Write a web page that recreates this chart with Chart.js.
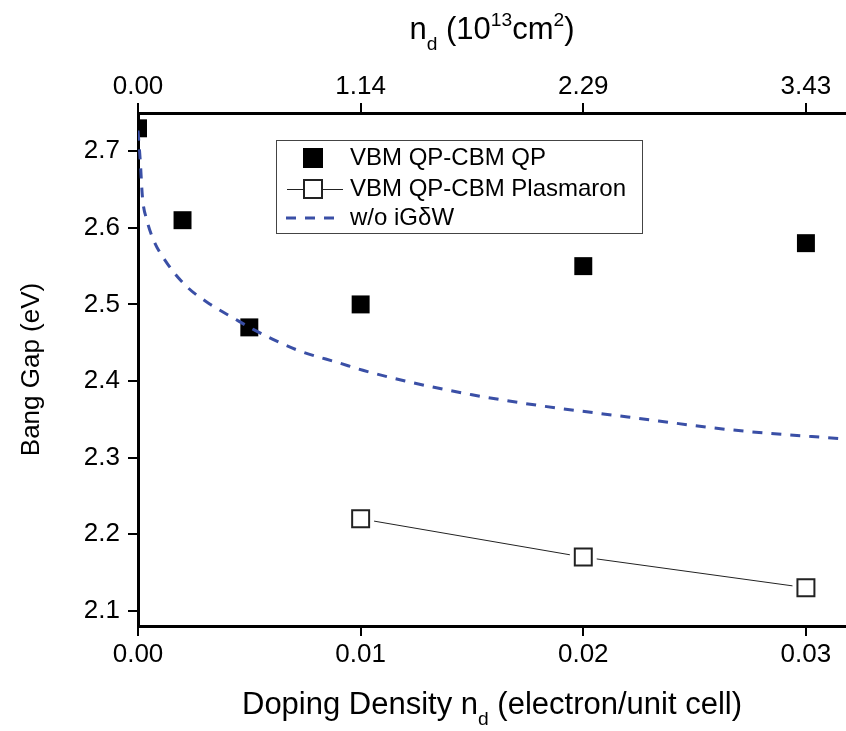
<!DOCTYPE html>
<html>
<head>
<meta charset="utf-8">
<script src="https://cdn.jsdelivr.net/npm/chart.js@4"></script>
<style>
  body { margin: 0; background: #fff; }
</style>
</head>
<body>
<canvas id="myChart" width="846" height="731"></canvas>
<script>
// bottom axis: doping density (electron/unit cell)
const xTicks = [0, 0.01, 0.02, 0.03];
// top axis labels: n_d in 10^13 cm^-2
const xTopLabels = ['0.00', '1.14', '2.29', '3.43'];
const yTicks = [2.1, 2.2, 2.3, 2.4, 2.5, 2.6, 2.7];

// VBM QP - CBM QP (filled squares)
const qpX = [0, 0.002, 0.005, 0.01, 0.02, 0.03];
const qpY = [2.73, 2.61, 2.47, 2.50, 2.55, 2.58];

// VBM QP - CBM Plasmaron (open squares)
const plasX = [0.01, 0.02, 0.03];
const plasY = [2.22, 2.17, 2.13];

// w/o iGdW (dashed curve)
const curveX = [0, 0.0001, 0.0002, 0.0004, 0.0007, 0.0013, 0.0022, 0.0032, 0.0043, 0.0052,
                0.0071, 0.0091, 0.0101, 0.012, 0.015, 0.018, 0.022, 0.0267, 0.0318];
const curveY = [2.727, 2.688, 2.640, 2.610, 2.584, 2.554, 2.523, 2.501, 2.482, 2.467,
                2.441, 2.423, 2.414, 2.400, 2.382, 2.368, 2.353, 2.336, 2.324];

const FONT = "'Liberation Sans', Arial, sans-serif";
const BLUE = '#3a4fa6';

const toPts = (xs, ys) => xs.map((x, i) => ({ x: x, y: ys[i] }));

// draws a run of text pieces with sub/superscripts
function drawRich(ctx, parts, cx, baseY, size) {
  let total = 0;
  parts.forEach(p => {
    ctx.font = (p.s ? size * 0.62 : size) + 'px ' + FONT;
    p.w = ctx.measureText(p.t).width;
    total += p.w;
  });
  let x = cx - total / 2;
  parts.forEach(p => {
    ctx.font = (p.s ? size * 0.62 : size) + 'px ' + FONT;
    let dy = 0;
    if (p.s === 'sub') dy = size * 0.36;
    if (p.s === 'sup') dy = -size * 0.42;
    ctx.fillText(p.t, x, baseY + dy);
    x += p.w;
  });
}

const decor = {
  id: 'decor',
  afterDraw(chart) {
    const ctx = chart.ctx;
    const a = chart.chartArea;
    ctx.save();
    ctx.fillStyle = '#000';
    ctx.textAlign = 'left';
    ctx.textBaseline = 'alphabetic';
    const mid = (a.left + a.right) / 2;

    // top title
    drawRich(ctx, [
      { t: 'n' }, { t: 'd', s: 'sub' }, { t: ' (10' }, { t: '13', s: 'sup' },
      { t: 'cm' }, { t: '2', s: 'sup' }, { t: ')' }
    ], mid, 39, 31);

    // bottom title
    drawRich(ctx, [
      { t: 'Doping Density n' }, { t: 'd', s: 'sub' }, { t: ' (electron/unit cell)' }
    ], mid, 714, 31);

    // y title
    ctx.save();
    ctx.translate(39, (a.top + a.bottom) / 2);
    ctx.rotate(-Math.PI / 2);
    ctx.textAlign = 'center';
    ctx.font = '26px ' + FONT;
    ctx.fillText('Bang Gap (eV)', 0, 0);
    ctx.restore();

    // legend box
    const bx = 276, by = 140, bw = 366, bh = 93;
    ctx.fillStyle = '#fff';
    ctx.fillRect(bx, by, bw, bh);
    ctx.strokeStyle = '#444';
    ctx.lineWidth = 1;
    ctx.strokeRect(bx + 0.5, by + 0.5, bw, bh);

    const sx = 313, tx = 350;
    const rows = [158, 189, 218];
    ctx.font = '24px ' + FONT;
    ctx.textBaseline = 'middle';
    ctx.textAlign = 'left';

    // row 1
    ctx.fillStyle = '#000';
    ctx.fillRect(sx - 10, rows[0] - 10, 20, 20);
    ctx.fillText(chart.data.datasets[1].label, tx, rows[0]);

    // row 2
    ctx.strokeStyle = '#222';
    ctx.lineWidth = 1;
    ctx.beginPath();
    ctx.moveTo(287, rows[1] + 0.5);
    ctx.lineTo(343, rows[1] + 0.5);
    ctx.stroke();
    ctx.fillStyle = '#fff';
    ctx.fillRect(sx - 9, rows[1] - 9, 18, 18);
    ctx.lineWidth = 2;
    ctx.strokeRect(sx - 9, rows[1] - 9, 18, 18);
    ctx.fillStyle = '#000';
    ctx.fillText(chart.data.datasets[4].label, tx, rows[1]);

    // row 3
    ctx.strokeStyle = BLUE;
    ctx.lineWidth = 3;
    ctx.setLineDash([10, 9]);
    ctx.beginPath();
    ctx.moveTo(286, rows[2]);
    ctx.lineTo(341, rows[2]);
    ctx.stroke();
    ctx.setLineDash([]);
    ctx.fillText(chart.data.datasets[0].label, tx, rows[2]);

    ctx.restore();
  }
};

const tickGrid = {
  drawOnChartArea: false,
  drawTicks: true,
  tickLength: 10,
  color: '#000',
  lineWidth: 2
};

function fixPad(s) {
  s.paddingLeft = 0;
  s.paddingRight = 0;
  s.paddingTop = 0;
  s.paddingBottom = 0;
}

const config = {
  type: 'scatter',
  data: {
    datasets: [
      {
        label: 'w/o iG\u03B4W',
        data: toPts(curveX, curveY),
        showLine: true,
        borderColor: BLUE,
        borderWidth: 3,
        borderDash: [10, 9],
        pointRadius: 0,
        cubicInterpolationMode: 'monotone',
        order: 0
      },
      {
        label: 'VBM QP-CBM QP',
        data: toPts(qpX, qpY),
        showLine: false,
        pointStyle: 'rect',
        pointRadius: 12.7,
        backgroundColor: '#000',
        borderColor: '#000',
        borderWidth: 0,
        order: 1
      },
      {
        // connecting line of the plasmaron points
        label: 'plasmaron line',
        data: toPts(plasX, plasY),
        showLine: true,
        borderColor: '#222',
        borderWidth: 1,
        pointRadius: 0,
        order: 4
      },
      {
        // white gap round each open square
        label: 'plasmaron gap',
        data: toPts(plasX, plasY),
        showLine: false,
        pointStyle: 'rect',
        pointRadius: 19,
        pointBackgroundColor: '#fff',
        pointBorderWidth: 0,
        order: 3
      },
      {
        label: 'VBM QP-CBM Plasmaron',
        data: toPts(plasX, plasY),
        showLine: false,
        pointStyle: 'rect',
        pointRadius: 12,
        pointBackgroundColor: '#fff',
        pointBorderColor: '#222',
        pointBorderWidth: 2,
        order: 2
      }
    ]
  },
  options: {
    responsive: false,
    devicePixelRatio: 1,
    animation: false,
    layout: { padding: 0, autoPadding: false },
    plugins: {
      legend: { display: false },
      tooltip: { enabled: false }
    },
    scales: {
      x: {
        type: 'linear',
        position: 'bottom',
        min: 0,
        max: 0.0318,
        afterBuildTicks: s => { s.ticks = xTicks.map(v => ({ value: v })); },
        afterFit: s => { s.height = 105; fixPad(s); },
        ticks: {
          callback: v => v.toFixed(2),
          font: { size: 26, family: FONT },
          color: '#000',
          padding: 3,
          maxRotation: 0,
          autoSkip: false
        },
        grid: tickGrid,
        border: { color: '#000', width: 3 }
      },
      x2: {
        type: 'linear',
        position: 'top',
        min: 0,
        max: 0.0318,
        afterBuildTicks: s => { s.ticks = xTicks.map(v => ({ value: v })); },
        afterFit: s => { s.height = 113; fixPad(s); },
        ticks: {
          callback: (v, i) => xTopLabels[i],
          font: { size: 26, family: FONT },
          color: '#000',
          padding: 1,
          maxRotation: 0,
          autoSkip: false
        },
        grid: tickGrid,
        border: { color: '#000', width: 3 }
      },
      y: {
        min: 2.08,
        max: 2.75,
        afterBuildTicks: s => { s.ticks = yTicks.map(v => ({ value: v })); },
        afterFit: s => { s.width = 138; fixPad(s); },
        ticks: {
          callback: v => v.toFixed(1),
          font: { size: 26, family: FONT },
          color: '#000',
          padding: 8
        },
        grid: tickGrid,
        border: { color: '#000', width: 3 }
      }
    }
  },
  plugins: [decor]
};

var myChart = new Chart(
  document.getElementById('myChart'),
  config
);
</script>
</body>
</html>
